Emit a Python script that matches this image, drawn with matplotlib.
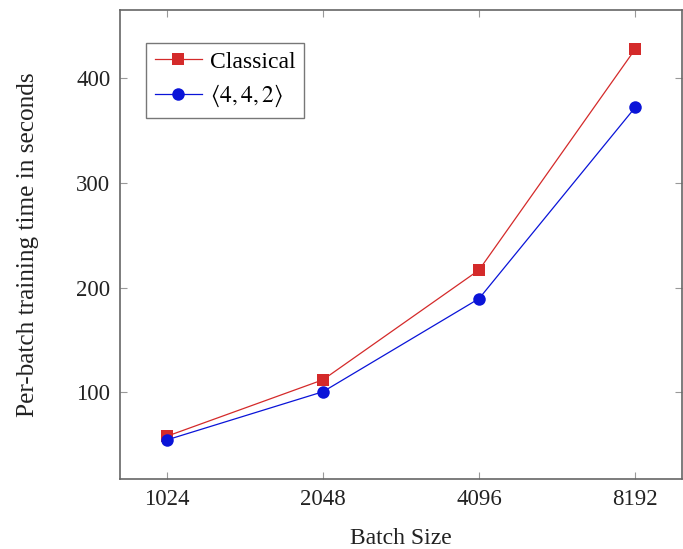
import numpy as np
import matplotlib
matplotlib.use('Agg')
import matplotlib.pyplot as plt

# data
batch_sizes = [1024, 2048, 4096, 8192]
classical = [58.1, 112.0, 216.8, 427.6]
tensor_442 = [54.6, 100.6, 189.5, 372.0]
y_ticks = [100, 200, 300, 400]

plt.rcParams['font.family'] = ['Liberation Serif', 'DejaVu Serif']
plt.rcParams['mathtext.fontset'] = 'stix'

fig = plt.figure(figsize=(6.83, 5.49), dpi=100)
ax = fig.add_axes([120 / 683, 1 - 479 / 549, 562 / 683, 469 / 549])

ax.plot(batch_sizes, classical, color='#d42a2a', lw=0.9, marker='s',
        markersize=8.5, markeredgewidth=0, label='Classical')
ax.plot(batch_sizes, tensor_442, color='#0a14d8', lw=0.9, marker='o',
        markersize=9, markeredgewidth=0, label=r'$\langle 4, 4, 2\rangle$')

ax.set_xscale('log', base=2)
ax.set_xlim(2 ** 9.7, 2 ** 13.3)
ax.set_ylim(17.3, 465)
ax.set_xticks(batch_sizes)
ax.set_xticklabels([str(b) for b in batch_sizes])
ax.xaxis.set_minor_locator(matplotlib.ticker.NullLocator())
ax.set_yticks(y_ticks)

for s in ax.spines.values():
    s.set_color('#666666')
    s.set_linewidth(1.2)
ax.tick_params(direction='in', length=5, width=0.8, color='#999999',
               top=True, right=True, labelsize=16.5, labelcolor='#222222', pad=7)

ax.set_xlabel('Batch Size', fontsize=17, color='#222222', labelpad=13)
ax.set_ylabel('Per-batch training time in seconds', fontsize=18.2,
              color='#222222', labelpad=27)

leg = ax.legend(loc='upper left', bbox_to_anchor=(0.047, 0.93), fontsize=17,
                frameon=True, fancybox=False, borderaxespad=0,
                handlelength=2.0, handletextpad=0.35, borderpad=0.35,
                labelspacing=0.45)
leg.get_frame().set_edgecolor('#555555')
leg.get_frame().set_linewidth(1.0)

fig.savefig('out.png', dpi=100)
